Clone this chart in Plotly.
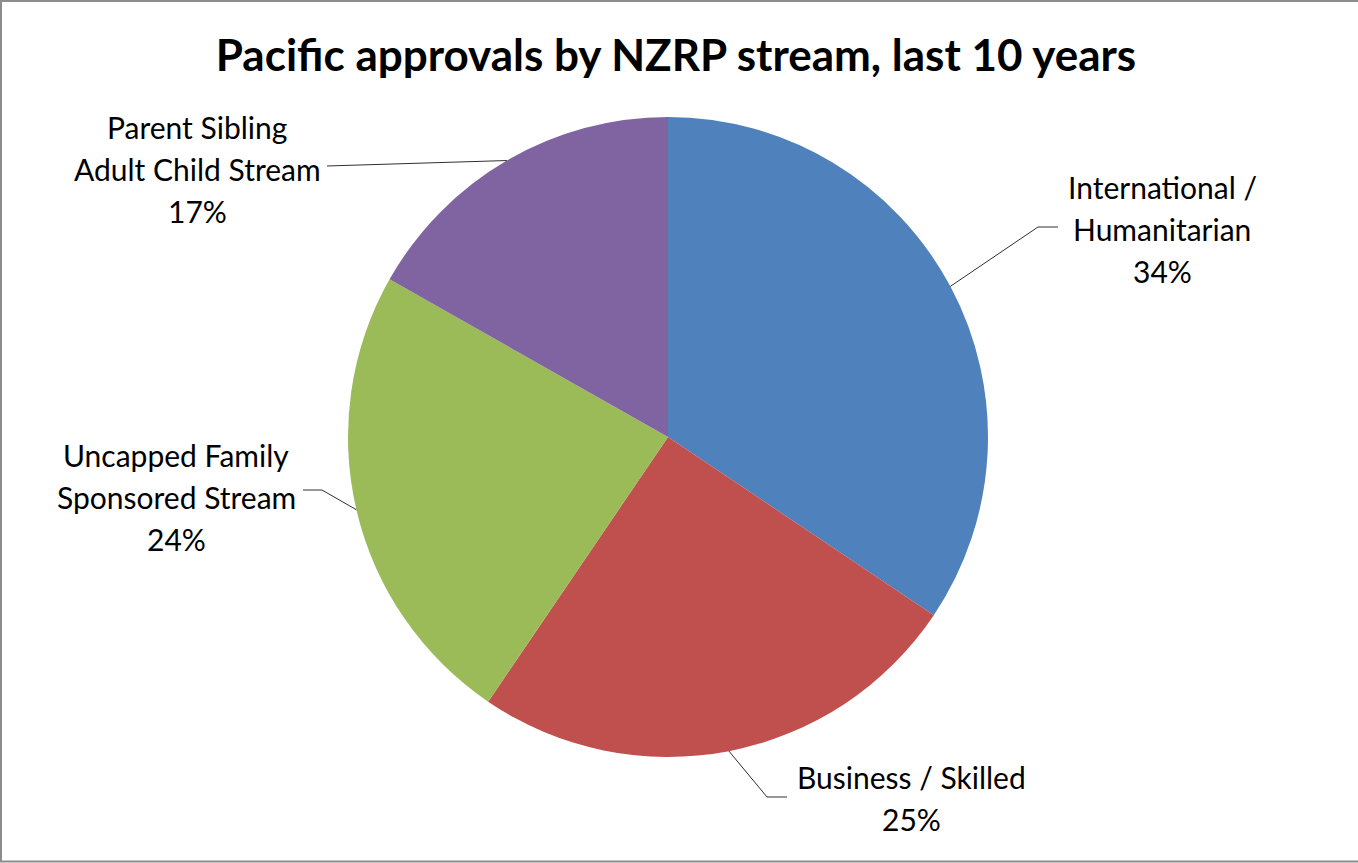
import math
import plotly.graph_objects as go

# Share of Pacific approvals by NZRP stream (per cent), clockwise from 12 o'clock
categories = [
    "International / Humanitarian",
    "Business / Skilled",
    "Uncapped Family Sponsored Stream",
    "Parent Sibling Adult Child Stream",
]
shares = [34.4, 25.1, 23.7, 16.8]
label_lines = [
    ["International /", "Humanitarian"],
    ["Business / Skilled"],
    ["Uncapped Family", "Sponsored Stream"],
    ["Parent Sibling", "Adult Child Stream"],
]
colors = ["#4F81BD", "#C0504D", "#9BBB59", "#8064A2"]

W, H = 1358, 863
# pie box in pixels (left, top, right, bottom)
PIE_L, PIE_T, PIE_R, PIE_B = 348, 117, 988, 757
CX, CY = (PIE_L + PIE_R) / 2, (PIE_T + PIE_B) / 2
RADIUS = min(PIE_R - PIE_L, PIE_B - PIE_T) / 2

# label placement: text centre x, first-line centre y, leader bend points after the slice edge
label_style = [
    dict(cx=1162, y0=187, bends=[(1038, 227), (1058, 227)]),
    dict(cx=912, y0=777, bends=[(767, 797), (787, 797)]),
    dict(cx=176, y0=455, bends=[(322, 490), (303, 490)]),
    dict(cx=197, y0=127, bends=[(327, 166)]),
]
LINE_PITCH = 42
FONT = "Lato, Carlito, Calibri, 'Open Sans', sans-serif"


def px(x):
    return x / W


def py(y):
    return 1 - y / H


fig = go.Figure(
    go.Pie(
        labels=categories,
        values=shares,
        sort=False,
        direction="clockwise",
        rotation=0,
        marker=dict(colors=colors, line=dict(width=0)),
        textinfo="none",
        hoverinfo="label+percent",
        showlegend=False,
        domain=dict(x=[px(PIE_L), px(PIE_R)], y=[py(PIE_B), py(PIE_T)]),
    )
)

total = sum(shares)
annotations = []
shapes = []
start = 0.0
for lines, value, style in zip(label_lines, shares, label_style):
    frac = value / total
    mid = (start + frac / 2) * 2 * math.pi
    start += frac
    # leader starts on the slice edge at its mid-angle
    ex = CX + RADIUS * math.sin(mid)
    ey = CY - RADIUS * math.cos(mid)
    pts = [(ex, ey)] + style["bends"]
    path = "M " + " L ".join(f"{px(x):.5f},{py(y):.5f}" for x, y in pts)
    shapes.append(dict(type="path", xref="paper", yref="paper", path=path,
                       line=dict(color="#303030", width=1)))
    texts = lines + [f"{round(frac * 100)}%"]
    for i, t in enumerate(texts):
        annotations.append(dict(
            text=t, x=px(style["cx"]), y=py(style["y0"] + i * LINE_PITCH),
            xref="paper", yref="paper", xanchor="center", yanchor="middle",
            showarrow=False, font=dict(family=FONT, size=30, color="#000000"),
        ))

# chart frame
shapes.append(dict(type="rect", xref="paper", yref="paper",
                   x0=px(1), y0=py(861.5), x1=px(W + 5), y1=py(1),
                   line=dict(color="#8C8C8C", width=2), fillcolor="rgba(0,0,0,0)"))

fig.update_layout(
    width=W, height=H,
    margin=dict(l=0, r=0, t=0, b=0),
    paper_bgcolor="#FFFFFF",
    title=dict(text="Pacific approvals by NZRP stream, last 10 years",
               x=px(676), y=py(56), xanchor="center", yanchor="middle",
               font=dict(family=FONT, size=44, color="#000000", weight="bold")),
    annotations=annotations,
    shapes=shapes,
)

fig.write_html("out.html")
